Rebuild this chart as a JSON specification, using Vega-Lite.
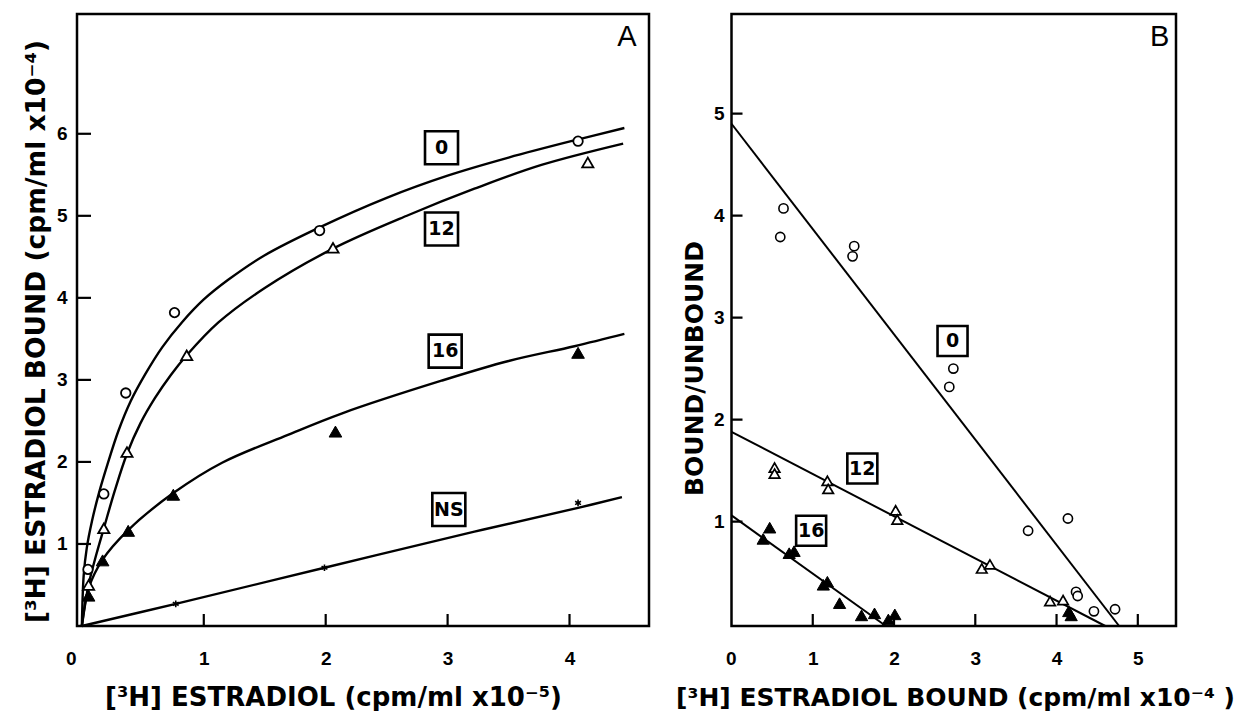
{
  "$schema": "https://vega.github.io/schema/vega-lite/v6.json",
  "padding": {"left": 21, "top": 12, "right": 5, "bottom": 0},
  "background": "white",
  "bounds": "flush",
  "spacing": 82.5,
  "config": {
    "view": {"stroke": "black", "strokeWidth": 2.5},
    "axis": {
      "domain": false, "grid": false, "ticks": false, "tickSize": 0, "format": "d",
      "labelFont": "Liberation Sans", "labelFontWeight": "bold", "labelFontSize": 19, "labelColor": "black",
      "titleFont": "DejaVu Sans", "titleFontWeight": "bold", "titleFontSize": 25, "titleColor": "black"
    }
  },
  "datasets": {
    "curvesA": [
      {"series": "0", "x": 0, "y": 0}, {"series": "0", "x": 0.015, "y": 0.62}, {"series": "0", "x": 0.04, "y": 0.95},
      {"series": "0", "x": 0.083, "y": 1.28}, {"series": "0", "x": 0.14, "y": 1.62}, {"series": "0", "x": 0.21, "y": 1.97},
      {"series": "0", "x": 0.30, "y": 2.38}, {"series": "0", "x": 0.40, "y": 2.74}, {"series": "0", "x": 0.52, "y": 3.07},
      {"series": "0", "x": 0.66, "y": 3.40}, {"series": "0", "x": 0.82, "y": 3.70}, {"series": "0", "x": 1.0, "y": 3.98},
      {"series": "0", "x": 1.2, "y": 4.22}, {"series": "0", "x": 1.5, "y": 4.52}, {"series": "0", "x": 1.95, "y": 4.86},
      {"series": "0", "x": 2.5, "y": 5.22}, {"series": "0", "x": 3.0, "y": 5.49}, {"series": "0", "x": 3.5, "y": 5.71},
      {"series": "0", "x": 4.04, "y": 5.92}, {"series": "0", "x": 4.45, "y": 6.07},
      {"series": "12", "x": 0, "y": 0}, {"series": "12", "x": 0.055, "y": 0.50}, {"series": "12", "x": 0.12, "y": 0.88},
      {"series": "12", "x": 0.18, "y": 1.19}, {"series": "12", "x": 0.27, "y": 1.65}, {"series": "12", "x": 0.37, "y": 2.10},
      {"series": "12", "x": 0.48, "y": 2.47}, {"series": "12", "x": 0.60, "y": 2.78}, {"series": "12", "x": 0.73, "y": 3.06},
      {"series": "12", "x": 0.86, "y": 3.30}, {"series": "12", "x": 1.12, "y": 3.70}, {"series": "12", "x": 1.5, "y": 4.12},
      {"series": "12", "x": 2.06, "y": 4.60}, {"series": "12", "x": 2.68, "y": 5.01}, {"series": "12", "x": 3.22, "y": 5.33},
      {"series": "12", "x": 3.77, "y": 5.62}, {"series": "12", "x": 4.44, "y": 5.88},
      {"series": "16", "x": 0, "y": 0}, {"series": "16", "x": 0.055, "y": 0.46}, {"series": "16", "x": 0.17, "y": 0.81},
      {"series": "16", "x": 0.38, "y": 1.17}, {"series": "16", "x": 0.75, "y": 1.62}, {"series": "16", "x": 1.15, "y": 1.99},
      {"series": "16", "x": 1.69, "y": 2.33}, {"series": "16", "x": 2.13, "y": 2.59}, {"series": "16", "x": 2.95, "y": 2.99},
      {"series": "16", "x": 3.50, "y": 3.23}, {"series": "16", "x": 4.04, "y": 3.41}, {"series": "16", "x": 4.45, "y": 3.56},
      {"series": "NS", "x": 0, "y": 0}, {"series": "NS", "x": 0.77, "y": 0.27}, {"series": "NS", "x": 1.99, "y": 0.71},
      {"series": "NS", "x": 3.22, "y": 1.15}, {"series": "NS", "x": 4.07, "y": 1.44}, {"series": "NS", "x": 4.43, "y": 1.57}
    ],
    "pointsA": [
      {"series": "0", "x": 0.05, "y": 0.69}, {"series": "0", "x": 0.18, "y": 1.61}, {"series": "0", "x": 0.36, "y": 2.84},
      {"series": "0", "x": 0.76, "y": 3.82}, {"series": "0", "x": 1.95, "y": 4.82}, {"series": "0", "x": 4.07, "y": 5.91},
      {"series": "12", "x": 0.055, "y": 0.50}, {"series": "12", "x": 0.18, "y": 1.19}, {"series": "12", "x": 0.37, "y": 2.12},
      {"series": "12", "x": 0.86, "y": 3.30}, {"series": "12", "x": 2.06, "y": 4.61}, {"series": "12", "x": 4.15, "y": 5.65},
      {"series": "16", "x": 0.055, "y": 0.37}, {"series": "16", "x": 0.17, "y": 0.80}, {"series": "16", "x": 0.38, "y": 1.16},
      {"series": "16", "x": 0.75, "y": 1.60}, {"series": "16", "x": 2.08, "y": 2.37}, {"series": "16", "x": 4.07, "y": 3.33},
      {"series": "NS", "x": 0.77, "y": 0.27}, {"series": "NS", "x": 1.99, "y": 0.71}, {"series": "NS", "x": 4.07, "y": 1.50}
    ],
    "labelsA": [
      {"x": 2.95, "y": 5.83, "label": "0"}, {"x": 2.95, "y": 4.84, "label": "12"},
      {"x": 2.98, "y": 3.35, "label": "16"}, {"x": 3.01, "y": 1.42, "label": "NS"}
    ],
    "letterA": [{"x": 4.47, "y": 7.18, "label": "A"}],
    "xticksA": [{"x": 1, "y": 0}, {"x": 2, "y": 0}, {"x": 3, "y": 0}, {"x": 4, "y": 0}],
    "yticksA": [{"x": -0.04, "y": 1}, {"x": -0.04, "y": 2}, {"x": -0.04, "y": 3}, {"x": -0.04, "y": 4}, {"x": -0.04, "y": 5}, {"x": -0.04, "y": 6}],
    "linesB": [
      {"series": "0", "x": 0, "y": 4.90}, {"series": "0", "x": 4.77, "y": -0.024},
      {"series": "12", "x": 0, "y": 1.88}, {"series": "12", "x": 4.6, "y": -0.024},
      {"series": "16", "x": 0, "y": 1.06}, {"series": "16", "x": 1.90, "y": -0.024}
    ],
    "pointsB": [
      {"series": "0", "x": 0.64, "y": 4.07}, {"series": "0", "x": 0.60, "y": 3.79}, {"series": "0", "x": 1.51, "y": 3.70},
      {"series": "0", "x": 1.49, "y": 3.60}, {"series": "0", "x": 2.73, "y": 2.50}, {"series": "0", "x": 2.68, "y": 2.32},
      {"series": "0", "x": 3.65, "y": 0.91}, {"series": "0", "x": 4.14, "y": 1.03}, {"series": "0", "x": 4.24, "y": 0.31},
      {"series": "0", "x": 4.26, "y": 0.27}, {"series": "0", "x": 4.46, "y": 0.12}, {"series": "0", "x": 4.72, "y": 0.14},
      {"series": "12", "x": 0.53, "y": 1.53}, {"series": "12", "x": 0.53, "y": 1.47}, {"series": "12", "x": 1.18, "y": 1.40},
      {"series": "12", "x": 1.19, "y": 1.32}, {"series": "12", "x": 2.02, "y": 1.11}, {"series": "12", "x": 2.04, "y": 1.02},
      {"series": "12", "x": 3.08, "y": 0.54}, {"series": "12", "x": 3.18, "y": 0.58}, {"series": "12", "x": 3.92, "y": 0.22},
      {"series": "12", "x": 4.08, "y": 0.23},
      {"series": "16", "x": 0.47, "y": 0.94}, {"series": "16", "x": 0.39, "y": 0.83}, {"series": "16", "x": 0.71, "y": 0.69},
      {"series": "16", "x": 0.77, "y": 0.71}, {"series": "16", "x": 1.18, "y": 0.41}, {"series": "16", "x": 1.13, "y": 0.38},
      {"series": "16", "x": 1.33, "y": 0.20}, {"series": "16", "x": 1.60, "y": 0.08}, {"series": "16", "x": 1.76, "y": 0.10},
      {"series": "16", "x": 1.93, "y": 0.04}, {"series": "16", "x": 2.01, "y": 0.09}, {"series": "16", "x": 4.15, "y": 0.12},
      {"series": "16", "x": 4.18, "y": 0.08}
    ],
    "labelsB": [
      {"x": 2.72, "y": 2.77, "label": "0"}, {"x": 1.61, "y": 1.52, "label": "12"}, {"x": 0.98, "y": 0.91, "label": "16"}
    ],
    "letterB": [{"x": 5.27, "y": 5.75, "label": "B"}],
    "xticksB": [{"x": 1, "y": -0.024}, {"x": 2, "y": -0.024}, {"x": 3, "y": -0.024}, {"x": 4, "y": -0.024}, {"x": 5, "y": -0.024}],
    "yticksB": [{"x": 0, "y": 1}, {"x": 0, "y": 2}, {"x": 0, "y": 3}, {"x": 0, "y": 4}, {"x": 0, "y": 5}]
  },
  "hconcat": [
    {
      "width": 572, "height": 612,
      "encoding": {
        "x": {"field": "x", "type": "quantitative",
          "scale": {"domain": [-0.04, 4.652], "nice": false, "zero": false},
          "axis": {"values": [0, 1, 2, 3, 4], "format": "d", "labelPadding": 32, "labelBaseline": "middle",
            "labelOffset": {"condition": {"test": "datum.value === 0", "value": -11}, "value": 0},
            "title": "[³H] ESTRADIOL  (cpm/ml x10⁻⁵)", "titleFontSize": 26, "titleX": 256, "titleY": 71, "titleBaseline": "middle", "titleAlign": "center", "titleAngle": 0}},
        "y": {"field": "y", "type": "quantitative",
          "scale": {"domain": [0, 7.46], "nice": false, "zero": false},
          "axis": {"values": [1, 2, 3, 4, 5, 6], "format": "d", "labelPadding": 10,
            "title": "[³H] ESTRADIOL BOUND (cpm/ml x10⁻⁴)", "titleFontSize": 26.5, "titleX": -41, "titleY": 317, "titleAngle": 270, "titleBaseline": "middle", "titleAlign": "center"}}
      },
      "layer": [
        {"data": {"name": "xticksA"}, "mark": {"type": "tick", "orient": "vertical", "size": 24, "thickness": 2.2, "color": "black", "opacity": 1, "clip": true}},
        {"data": {"name": "yticksA"}, "mark": {"type": "tick", "orient": "horizontal", "size": 28, "thickness": 2.2, "color": "black", "opacity": 1, "clip": true}},
        {"data": {"name": "curvesA"}, "mark": {"type": "line", "color": "black", "strokeWidth": 2.4, "interpolate": "catmull-rom"},
          "encoding": {"detail": {"field": "series"}}},
        {"data": {"name": "pointsA"}, "transform": [{"filter": "datum.series === '0'"}],
          "mark": {"type": "point", "shape": "circle", "filled": true, "fill": "white", "stroke": "black", "strokeWidth": 1.8, "size": 90, "opacity": 1}},
        {"data": {"name": "pointsA"}, "transform": [{"filter": "datum.series === '12'"}],
          "mark": {"type": "point", "shape": "triangle-up", "filled": true, "fill": "white", "stroke": "black", "strokeWidth": 1.8, "size": 125, "opacity": 1}},
        {"data": {"name": "pointsA"}, "transform": [{"filter": "datum.series === '16'"}],
          "mark": {"type": "point", "shape": "triangle-up", "filled": true, "fill": "black", "stroke": "black", "strokeWidth": 1, "size": 160, "opacity": 1}},
        {"data": {"name": "pointsA"}, "transform": [{"filter": "datum.series === 'NS'"}],
          "mark": {"type": "point", "shape": "M0,-1L0,1M-0.87,-0.5L0.87,0.5M-0.87,0.5L0.87,-0.5", "filled": false, "stroke": "black", "strokeWidth": 1.6, "size": 45, "opacity": 1}},
        {"data": {"name": "labelsA"},
          "mark": {"type": "point", "shape": "square", "filled": true, "fill": "white", "stroke": "black", "strokeWidth": 2.6, "size": 1089, "opacity": 1}},
        {"data": {"name": "labelsA"},
          "mark": {"type": "text", "font": "DejaVu Sans", "fontWeight": "bold", "fontSize": 19, "color": "black", "align": "center", "baseline": "middle"},
          "encoding": {"text": {"field": "label"}}},
        {"data": {"name": "letterA"},
          "mark": {"type": "text", "font": "Liberation Sans", "fontSize": 29, "color": "black", "align": "center", "baseline": "middle"},
          "encoding": {"text": {"field": "label"}}}
      ]
    },
    {
      "width": 444.5, "height": 612,
      "encoding": {
        "x": {"field": "x", "type": "quantitative",
          "scale": {"domain": [0, 5.47], "nice": false, "zero": false},
          "axis": {"values": [0, 1, 2, 3, 4, 5], "format": "d", "labelPadding": 32, "labelBaseline": "middle",
            "labelOffset": {"condition": {"test": "datum.value === 0", "value": -6}, "value": 0},
            "title": "[³H] ESTRADIOL BOUND (cpm/ml x10⁻⁴ )", "titleX": 223.5, "titleY": 71, "titleBaseline": "middle", "titleAlign": "center", "titleAngle": 0}},
        "y": {"field": "y", "type": "quantitative",
          "scale": {"domain": [-0.024, 5.976], "nice": false, "zero": false},
          "axis": {"values": [1, 2, 3, 4, 5], "format": "d", "labelPadding": 7.5,
            "title": "BOUND/UNBOUND", "titleX": -37.5, "titleY": 354, "titleAngle": 270, "titleBaseline": "middle", "titleAlign": "center"}}
      },
      "layer": [
        {"data": {"name": "xticksB"}, "mark": {"type": "tick", "orient": "vertical", "size": 24, "thickness": 2.2, "color": "black", "opacity": 1, "clip": true}},
        {"data": {"name": "yticksB"}, "mark": {"type": "tick", "orient": "horizontal", "size": 22, "thickness": 2.2, "color": "black", "opacity": 1, "clip": true}},
        {"data": {"name": "linesB"}, "mark": {"type": "line", "color": "black", "strokeWidth": 2},
          "encoding": {"detail": {"field": "series"}}},
        {"data": {"name": "pointsB"}, "transform": [{"filter": "datum.series === '0'"}],
          "mark": {"type": "point", "shape": "circle", "filled": true, "fill": "white", "stroke": "black", "strokeWidth": 1.6, "size": 85, "opacity": 1}},
        {"data": {"name": "pointsB"}, "transform": [{"filter": "datum.series === '12'"}],
          "mark": {"type": "point", "shape": "triangle-up", "filled": true, "fill": "white", "stroke": "black", "strokeWidth": 1.7, "size": 110, "opacity": 1}},
        {"data": {"name": "pointsB"}, "transform": [{"filter": "datum.series === '16'"}],
          "mark": {"type": "point", "shape": "triangle-up", "filled": true, "fill": "black", "stroke": "black", "strokeWidth": 1, "size": 150, "opacity": 1}},
        {"data": {"name": "labelsB"},
          "mark": {"type": "point", "shape": "square", "filled": true, "fill": "white", "stroke": "black", "strokeWidth": 2.6, "size": 900, "opacity": 1}},
        {"data": {"name": "labelsB"},
          "mark": {"type": "text", "font": "DejaVu Sans", "fontWeight": "bold", "fontSize": 19, "color": "black", "align": "center", "baseline": "middle"},
          "encoding": {"text": {"field": "label"}}},
        {"data": {"name": "letterB"},
          "mark": {"type": "text", "font": "Liberation Sans", "fontSize": 29, "color": "black", "align": "center", "baseline": "middle"},
          "encoding": {"text": {"field": "label"}}}
      ]
    }
  ]
}
